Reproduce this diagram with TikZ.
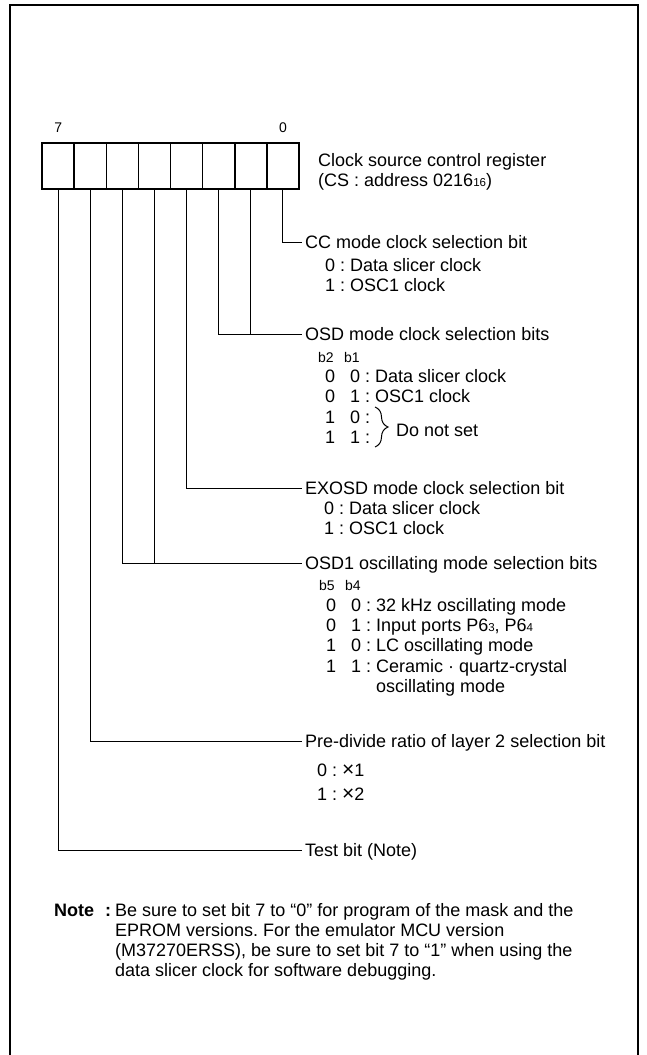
\documentclass[tikz,border=0pt]{standalone}
\usepackage{fontspec}
\setmainfont{Liberation Sans}
\usetikzlibrary{decorations.pathreplacing}

\newcommand\lowidx[1]{{\fontsize{11.5}{11}\selectfont #1}}
\newcommand\timesx{{\fontsize{21}{20}\selectfont ×}}

\begin{document}
\frenchspacing
\begin{tikzpicture}[x=1pt, y=-1pt,
  every node/.style={font=\fontsize{18}{20}\selectfont, inner sep=0pt},
  cell/.style={draw, line width=1.6pt, minimum width=32.1pt, minimum height=46pt},
  wire/.style={line width=0.9pt},
  field/.style={anchor=west, inner xsep=3pt, text height=13pt, text depth=0pt},
  val/.style={anchor=base west},
  bits/.style={anchor=base west, font=\fontsize{14}{16}\selectfont}
]
  \useasboundingbox (0,0) rectangle (647,1055);
  \draw[line width=2.2pt] (10,1062) -- (10,5) -- (638,5) -- (638,1062);

  % register cells, bit 7 on the left
  \foreach \i in {0,...,7}
    \node[cell] (b\i) at ({282.9-32.1*\i},166) {};
  \node[bits, anchor=base] (msb) at ([yshift=10pt]b7.north) {7};
  \node[bits, anchor=base] (lsb) at ([yshift=10pt]b0.north) {0};

  \node[val] (reg) at (318,166) {Clock source control register};
  \node[val] (addr) at (318,186) {(CS : address 0216\lowidx{16})};

  % bit 0
  \node[field] (cc) at (302,242) {CC mode clock selection bit};
  \node[val] (cc0) at (325,271) {0 : Data slicer clock};
  \node[val] (cc1) at (325,291) {1 : OSC1 clock};

  % bits 2,1
  \node[field] (osd) at (302,334) {OSD mode clock selection bits};
  \node[bits] (osdb) at (318,362) {\makebox[26pt][l]{b2}b1};
  \node[val] (osd0) at (325,382) {\makebox[25pt][l]{0}0 : Data slicer clock};
  \node[val] (osd1) at (325,402) {\makebox[25pt][l]{0}1 : OSC1 clock};
  \node[val] (osd2) at (325,423) {\makebox[25pt][l]{1}0 :};
  \node[val] (osd3) at (325,443) {\makebox[25pt][l]{1}1 :};
  \draw[decorate, decoration={brace, amplitude=13pt}, line width=1pt] (375,407) -- (375,447);
  \node[val] (noset) at (396,436) {Do not set};

  % bit 3
  \node[field] (exosd) at (302,488) {EXOSD mode clock selection bit};
  \node[val] (ex0) at (324,514) {0 : Data slicer clock};
  \node[val] (ex1) at (324,534) {1 : OSC1 clock};

  % bits 5,4
  \node[field] (osc) at (302,563) {OSD1 oscillating mode selection bits};
  \node[bits] (oscb) at (319,590) {\makebox[26pt][l]{b5}b4};
  \node[val] (osc0) at (326,611) {\makebox[25pt][l]{0}0 : 32 kHz oscillating mode};
  \node[val] (osc1) at (326,631) {\makebox[25pt][l]{0}1 : Input ports P6\lowidx{3}, P6\lowidx{4}};
  \node[val] (osc2) at (326,651) {\makebox[25pt][l]{1}0 : LC oscillating mode};
  \node[val] (osc3) at (326,672) {\makebox[25pt][l]{1}1 : Ceramic · quartz-crystal};
  \node[val] (osc3b) at (376,692) {oscillating mode};

  % bit 6
  \node[field] (pre) at (302,741) {Pre-divide ratio of layer 2 selection bit};
  \node[val] (pre0) at (317,776) {0 : \timesx1};
  \node[val] (pre1) at (317,800) {1 : \timesx2};

  % bit 7
  \node[field] (test) at (302,850) {Test bit (Note)};

  \draw[wire] (b0.south) |- (cc.west);
  \draw[wire] (b2.south) |- (osd.west);
  \draw[wire] (b1.south) -- (b1.south |- osd.west);
  \draw[wire] (b3.south) |- (exosd.west);
  \draw[wire] (b5.south) |- (osc.west);
  \draw[wire] (b4.south) -- (b4.south |- osc.west);
  \draw[wire] (b6.south) |- (pre.west);
  \draw[wire] (b7.south) |- (test.west);

  \node[val] (note) at (54,916) {\begin{tabular}[t]{@{}l@{\hspace{4pt}}l@{}}
    \textbf{Note\hspace{11pt}:} & Be sure to set bit 7 to “0” for program of the mask and the\\
    & EPROM versions. For the emulator MCU version\\
    & (M37270ERSS), be sure to set bit 7 to “1” when using the\\
    & data slicer clock for software debugging.
  \end{tabular}};
\end{tikzpicture}
\end{document}
